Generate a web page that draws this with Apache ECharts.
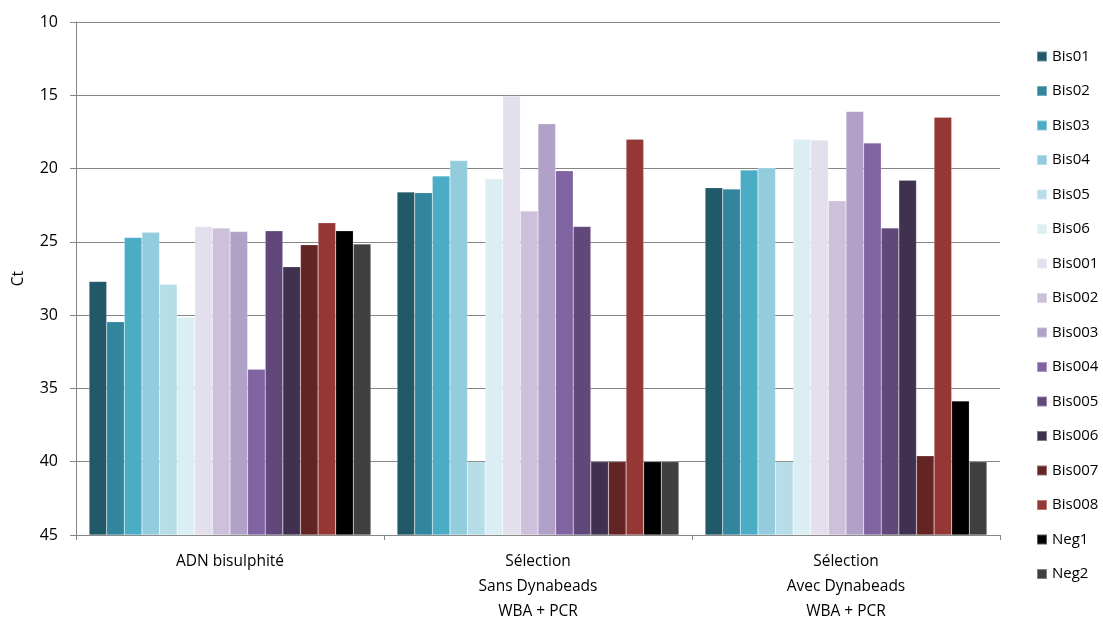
<!DOCTYPE html>
<html><head><meta charset="utf-8">
<script src="https://cdn.jsdelivr.net/npm/echarts@6/dist/echarts.min.js"></script>
<style>html,body{margin:0;padding:0;background:#fff}#c{width:1103px;height:620px}</style>
</head><body><div id="c"></div>
<script>
const categories = ['ADN bisulphité', 'Sélection\nSans Dynabeads\nWBA + PCR', 'Sélection\nAvec Dynabeads\nWBA + PCR'];
const seriesNames = ['Bis01','Bis02','Bis03','Bis04','Bis05','Bis06','Bis001','Bis002','Bis003','Bis004','Bis005','Bis006','Bis007','Bis008','Neg1','Neg2'];
const Bis01 = [27.7, 21.6, 21.3];
const Bis02 = [30.45, 21.65, 21.4];
const Bis03 = [24.7, 20.5, 20.1];
const Bis04 = [24.35, 19.45, 19.95];
const Bis05 = [27.9, 40, 40];
const Bis06 = [30.15, 20.7, 18.0];
const Bis001 = [23.95, 15.05, 18.05];
const Bis002 = [24.05, 22.9, 22.2];
const Bis003 = [24.3, 16.95, 16.1];
const Bis004 = [33.7, 20.15, 18.25];
const Bis005 = [24.25, 23.95, 24.05];
const Bis006 = [26.7, 40, 20.8];
const Bis007 = [25.2, 40, 39.6];
const Bis008 = [23.7, 18.0, 16.5];
const Neg1 = [24.25, 40, 35.85];
const Neg2 = [25.15, 40, 40];
const values = [Bis01,Bis02,Bis03,Bis04,Bis05,Bis06,Bis001,Bis002,Bis003,Bis004,Bis005,Bis006,Bis007,Bis008,Neg1,Neg2];
const colors = ['#215968','#31859C','#4BACC6','#93CDDD','#B7DEE8','#DAEEF3','#E4DFEC','#CCC0DA','#B1A0C7','#8064A2','#60497A','#403151','#632523','#953735','#000000','#404040'];
const yTicks = [10,15,20,25,30,35,40,45];
const axisBottom = 45; // Ct axis is reversed: bars rise from 45 toward 10

const font = 'Open Sans, Noto Sans, sans-serif';
const chart = echarts.init(document.getElementById('c'));
chart.setOption({
  animation: false,
  color: colors,
  grid: {left: 76, right: 103, top: 22, bottom: 85, containLabel: false, outerBoundsMode: 'none'},
  legend: {
    orient: 'vertical', left: 1031, top: 43,
    icon: 'rect', itemWidth: 10, itemHeight: 10, itemGap: 17.5,
    textStyle: {fontFamily: font, fontSize: 15, color: '#000', lineHeight: 17},
    data: seriesNames
  },
  xAxis: {
    type: 'category', data: categories,
    axisLine: {lineStyle: {color: '#868686', width: 1}},
    axisTick: {show: true, length: 5, alignWithLabel: false, lineStyle: {color: '#868686'}},
    axisLabel: {fontFamily: font, fontSize: 15.5, color: '#000', lineHeight: 25, margin: 14}
  },
  yAxis: {
    type: 'value', min: 0, max: 35, interval: 5,
    name: 'Ct', nameLocation: 'middle', nameGap: 49, nameRotate: 90,
    nameTextStyle: {fontFamily: font, fontSize: 15.5, color: '#000'},
    axisLine: {show: true, lineStyle: {color: '#868686'}},
    axisTick: {show: true, length: 6, lineStyle: {color: '#868686'}},
    axisLabel: {fontFamily: font, fontSize: 16, color: '#000', margin: 18,
      formatter: v => String(yTicks[0] + yTicks[yTicks.length - 1] - (v + yTicks[0]))},
    splitLine: {lineStyle: {color: '#868686', width: 1}}
  },
  series: seriesNames.map((n, i) => ({
    name: n, type: 'bar',
    barGap: '0%', barCategoryGap: '8.5%',
    itemStyle: {borderColor: 'rgba(255,255,255,0.35)', borderWidth: 0.5},
    data: values[i].map(v => axisBottom - v)
  }))
});
</script>
</body></html>
